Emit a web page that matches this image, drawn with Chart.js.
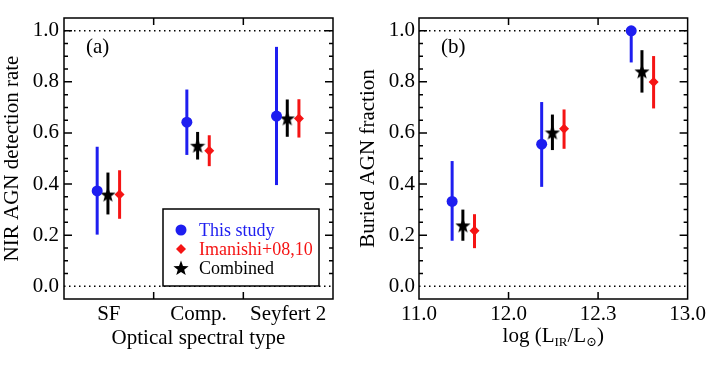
<!DOCTYPE html>
<html>
<head>
<meta charset="utf-8">
<script src="https://cdn.jsdelivr.net/npm/chart.js@4.4.1/dist/chart.umd.min.js"></script>
<style>
  body { margin: 0; background: #fff; }
  #wrap { position: relative; width: 709px; height: 374px; }
  canvas { position: absolute; top: 0; }
</style>
</head>
<body>
<div id="wrap">
  <canvas id="left" width="354" height="374" style="left:0"></canvas>
  <canvas id="right" width="355" height="374" style="left:354px"></canvas>
</div>
<script>
// panel (a): detection rate per optical type
const typeLabels = ['SF', 'Comp.', 'Seyfert 2'];
const studyRateA = [0.373, 0.642, 0.666];
const studyLowA = [0.202, 0.514, 0.396];
const studyHighA = [0.546, 0.770, 0.937];
const imanishiRateA = [0.359, 0.530, 0.657];
const imanishiLowA = [0.264, 0.470, 0.582];
const imanishiHighA = [0.454, 0.591, 0.732];
const combinedRateA = [0.359, 0.550, 0.657];
const combinedLowA = [0.281, 0.496, 0.585];
const combinedHighA = [0.445, 0.604, 0.731];

// panel (b): buried AGN fraction per luminosity bin
const lumTickLabels = ['11.0', '12.0', '12.3', '13.0'];
const studyFracB = [0.332, 0.556, 1.0];
const studyLowB = [0.178, 0.389, 0.876];
const studyHighB = [0.490, 0.721, 1.0];
const imanishiFracB = [0.217, 0.616, 0.799];
const imanishiLowB = [0.149, 0.538, 0.696];
const imanishiHighB = [0.282, 0.692, 0.901];
const combinedFracB = [0.238, 0.602, 0.841];
const combinedLowB = [0.178, 0.533, 0.758];
const combinedHighB = [0.300, 0.672, 0.924];

const yTicks = [0, 0.2, 0.4, 0.6, 0.8, 1.0];

const SERIF = '"Liberation Serif", "DejaVu Serif", serif';
const FS = 21;
const BLUE = '#1e1ef0';
const RED = '#f51414';
const BLACK = '#000';

function makeStar(size, color) {
  const c = document.createElement('canvas');
  c.width = c.height = size;
  const g = c.getContext('2d');
  const cx = size / 2, cy = size / 2 + 0.6, ro = size / 2, ri = ro * 0.42;
  g.beginPath();
  for (let k = 0; k < 10; k++) {
    const r = k % 2 ? ri : ro;
    const a = -Math.PI / 2 + k * Math.PI / 5;
    g.lineTo(cx + r * Math.cos(a), cy + r * Math.sin(a));
  }
  g.closePath();
  g.fillStyle = color;
  g.fill();
  return c;
}
const starImg = makeStar(16, BLACK);

function pts(vals, lo, hi, shift) {
  return vals.map((v, i) => ({ x: i + 0.5 + shift, y: v, lo: lo[i], hi: hi[i] }));
}

function series(label, vals, lo, hi, shift, color, style, radius) {
  return {
    label: label,
    data: pts(vals, lo, hi, shift),
    pointStyle: style,
    pointRadius: radius,
    pointHoverRadius: radius,
    backgroundColor: color,
    borderColor: color,
    borderWidth: 0,
    showLine: false,
    barColor: color,
  };
}

const errorBars = {
  id: 'errorBars',
  beforeDatasetsDraw(chart) {
    const ctx = chart.ctx;
    const ys = chart.scales.y;
    chart.data.datasets.forEach((ds, i) => {
      const meta = chart.getDatasetMeta(i);
      ctx.save();
      ctx.strokeStyle = ds.barColor;
      ctx.lineWidth = 3;
      meta.data.forEach((pt, j) => {
        const d = ds.data[j];
        ctx.beginPath();
        ctx.moveTo(pt.x, ys.getPixelForValue(d.lo));
        ctx.lineTo(pt.x, ys.getPixelForValue(d.hi));
        ctx.stroke();
      });
      ctx.restore();
    });
  }
};

const frame = {
  id: 'frame',
  beforeDatasetsDraw(chart) {
    const ctx = chart.ctx, a = chart.chartArea, ys = chart.scales.y;
    ctx.save();
    ctx.strokeStyle = '#000';
    ctx.lineWidth = 1.5;
    ctx.setLineDash([1.5, 3.5]);
    [0, 1].forEach(v => {
      const py = ys.getPixelForValue(v);
      ctx.beginPath();
      ctx.moveTo(a.left, py);
      ctx.lineTo(a.right, py);
      ctx.stroke();
    });
    ctx.restore();
  },
  afterDatasetsDraw(chart, args, opts) {
    const ctx = chart.ctx, a = chart.chartArea, ys = chart.scales.y, xs = chart.scales.x;
    ctx.save();
    ctx.strokeStyle = '#000';
    ctx.lineWidth = 1.5;
    ctx.strokeRect(a.left, a.top, a.right - a.left, a.bottom - a.top);
    ctx.beginPath();
    for (let k = 1; k <= 20; k++) {
      const v = k * 0.05;
      const py = ys.getPixelForValue(v);
      const len = k % 4 === 0 ? 8 : 4;
      ctx.moveTo(a.left, py); ctx.lineTo(a.left + len, py);
      ctx.moveTo(a.right, py); ctx.lineTo(a.right - len, py);
    }
    opts.xMarks.forEach(v => {
      const px = xs.getPixelForValue(v);
      ctx.moveTo(px, a.bottom); ctx.lineTo(px, a.bottom - 7);
      ctx.moveTo(px, a.top); ctx.lineTo(px, a.top + 7);
    });
    ctx.stroke();
    ctx.fillStyle = '#000';
    ctx.font = FS + 'px ' + SERIF;
    ctx.textAlign = 'left';
    ctx.textBaseline = 'alphabetic';
    ctx.fillText(opts.panel, a.left + 22, 53);
    ctx.restore();
  }
};

const legendBox = {
  id: 'legendBox',
  afterDatasetsDraw(chart, args, opts) {
    if (!opts.show) return;
    const ctx = chart.ctx;
    ctx.save();
    ctx.fillStyle = '#fff';
    ctx.fillRect(163, 209, 156, 77);
    ctx.strokeStyle = '#000';
    ctx.lineWidth = 1.5;
    ctx.strokeRect(163, 209, 156, 77);
    ctx.font = '18px ' + SERIF;
    ctx.textBaseline = 'middle';
    ctx.textAlign = 'left';
    const order = [0, 2, 1];
    order.forEach((di, k) => {
      const ds = chart.data.datasets[di];
      const y = 230 + k * 19;
      ctx.fillStyle = ds.backgroundColor;
      ctx.strokeStyle = ds.backgroundColor;
      Chart.helpers.drawPoint(ctx, {
        pointStyle: ds.pointStyle, radius: ds.pointRadius, borderWidth: 0, rotation: 0
      }, 181, y);
      ctx.fillStyle = ds.label === 'Combined' ? '#000' : ds.backgroundColor;
      ctx.fillText(ds.label, 199, y + 1);
    });
    ctx.restore();
  }
};

const lumTitle = {
  id: 'lumTitle',
  afterDraw(chart, args, opts) {
    if (!opts.show) return;
    const ctx = chart.ctx, a = chart.chartArea;
    const big = FS + 'px ' + SERIF, small = '13px ' + SERIF;
    const parts = [
      ['log (L', big, 0], ['IR', small, 4], ['/L', big, 0], ['\u2299', small, 4], [')', big, 0]
    ];
    ctx.save();
    ctx.fillStyle = '#000';
    ctx.textBaseline = 'alphabetic';
    ctx.textAlign = 'left';
    let w = 0;
    parts.forEach(p => { ctx.font = p[1]; w += ctx.measureText(p[0]).width; });
    let x = (a.left + a.right) / 2 - w / 2;
    parts.forEach(p => {
      ctx.font = p[1];
      ctx.fillText(p[0], x, 342 + p[2]);
      x += ctx.measureText(p[0]).width;
    });
    ctx.restore();
  }
};

function makeChart(id, datasets, cfg) {
  return new Chart(document.getElementById(id), {
    type: 'scatter',
    data: { datasets: datasets },
    plugins: [errorBars, frame, legendBox, lumTitle],
    options: {
      responsive: false,
      animation: false,
      events: [],
      layout: { padding: { top: 18, right: 21, left: 0, bottom: 0 } },
      plugins: {
        legend: { display: false },
        tooltip: { enabled: false },
        frame: { xMarks: cfg.xMarks, panel: cfg.panel },
        legendBox: { show: cfg.legend },
        lumTitle: { show: cfg.lumTitle },
      },
      scales: {
        x: {
          type: 'linear',
          min: 0,
          max: 3,
          grid: { display: false, drawTicks: false },
          border: { display: false },
          afterBuildTicks: s => { s.ticks = cfg.xTickVals.map(v => ({ value: v })); },
          afterFit: s => { s.height = 75; },
          ticks: {
            autoSkip: false,
            maxRotation: 0,
            padding: 3,
            color: '#000',
            font: { family: SERIF, size: FS },
            callback: (v, i) => cfg.xTickLabels[i],
          },
          title: {
            display: !cfg.lumTitle,
            text: cfg.xTitle,
            color: '#000',
            font: { family: SERIF, size: FS },
            padding: { top: 0, bottom: 23 },
          },
        },
        y: {
          type: 'linear',
          min: -0.05,
          max: 1.05,
          grid: { display: false, drawTicks: false },
          border: { display: false },
          afterBuildTicks: s => { s.ticks = yTicks.map(v => ({ value: v })); },
          afterFit: s => { s.width = cfg.yWidth; },
          ticks: {
            padding: cfg.yPad,
            color: '#000',
            font: { family: SERIF, size: FS },
            callback: v => v.toFixed(1),
          },
          title: {
            display: true,
            text: cfg.yTitle,
            color: '#000',
            font: { family: SERIF, size: FS },
            padding: { top: cfg.yTitlePad, bottom: 0 },
          },
        },
      },
    },
  });
}

const SHIFT_STUDY = -0.13, SHIFT_COMB = -0.01, SHIFT_IMA = 0.12;

makeChart('left', [
  series('This study', studyRateA, studyLowA, studyHighA, SHIFT_STUDY, BLUE, 'circle', 5.5),
  series('Combined', combinedRateA, combinedLowA, combinedHighA, SHIFT_COMB, BLACK, starImg, 8),
  series('Imanishi+08,10', imanishiRateA, imanishiLowA, imanishiHighA, SHIFT_IMA, RED, 'rectRot', 5),
], {
  xTickVals: [0.5, 1.5, 2.5],
  xTickLabels: typeLabels,
  xMarks: [1, 2],
  xTitle: 'Optical spectral type',
  yTitle: 'NIR AGN detection rate',
  yWidth: 64, yPad: 5, yTitlePad: 0,
  panel: '(a)', legend: true, lumTitle: false,
});

makeChart('right', [
  series('This study', studyFracB, studyLowB, studyHighB, SHIFT_STUDY, BLUE, 'circle', 5.5),
  series('Combined', combinedFracB, combinedLowB, combinedHighB, SHIFT_COMB, BLACK, starImg, 8),
  series('Imanishi+08,10', imanishiFracB, imanishiLowB, imanishiHighB, SHIFT_IMA, RED, 'rectRot', 5),
], {
  xTickVals: [0, 1, 2, 3],
  xTickLabels: lumTickLabels,
  xMarks: [1, 2],
  xTitle: '',
  yTitle: 'Buried AGN fraction',
  yWidth: 65, yPad: 4, yTitlePad: 2,
  panel: '(b)', legend: false, lumTitle: true,
});
</script>
</body>
</html>
